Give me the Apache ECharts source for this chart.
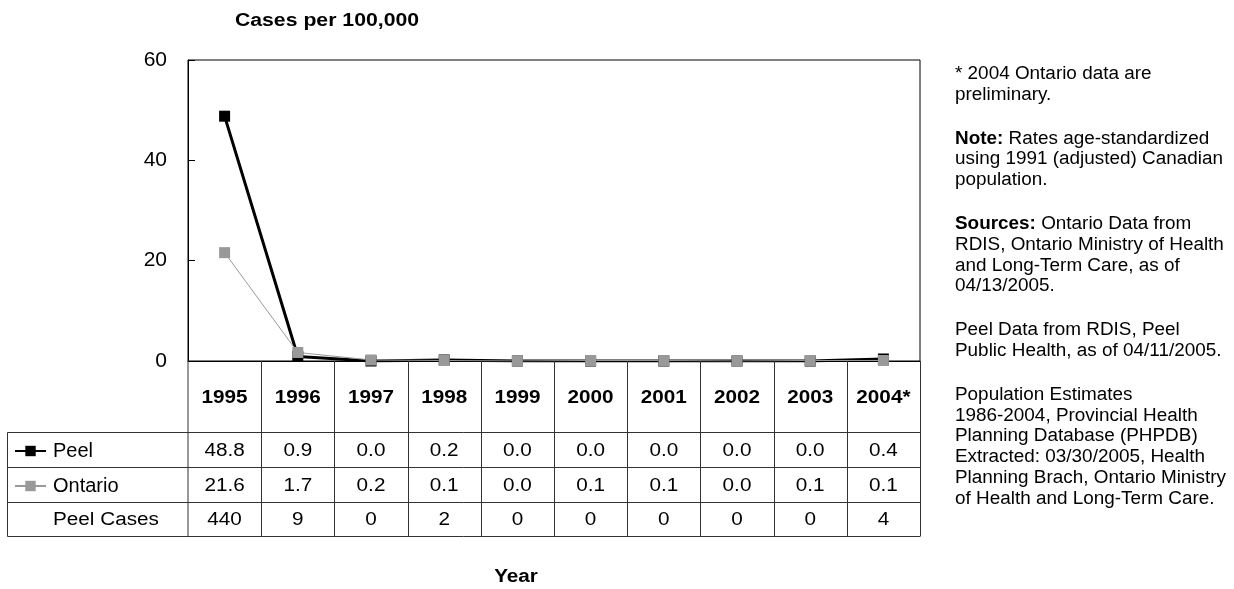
<!DOCTYPE html>
<html>
<head>
<meta charset="utf-8">
<script src="https://cdn.jsdelivr.net/npm/echarts@6/dist/echarts.min.js"></script>
<style>
  html, body { margin: 0; padding: 0; background: #fff; }
  #chart { width: 1234px; height: 589px; }
</style>
</head>
<body>
<div id="chart"></div>
<script>
// data
var years = ["1995", "1996", "1997", "1998", "1999", "2000", "2001", "2002", "2003", "2004*"];
var peel = [48.8, 0.9, 0.0, 0.2, 0.0, 0.0, 0.0, 0.0, 0.0, 0.4];
var ontario = [21.6, 1.7, 0.2, 0.1, 0.0, 0.1, 0.1, 0.0, 0.1, 0.1];
var peelCases = [440, 9, 0, 2, 0, 0, 0, 0, 0, 4];
var rowNames = ["Peel", "Ontario", "Peel Cases"];

// side notes, one array per paragraph ({b|..} = bold)
var notes = [
  ["* 2004 Ontario data are", "preliminary."],
  ["{b|Note:} Rates age-standardized", "using 1991 (adjusted) Canadian", "population."],
  ["{b|Sources:} Ontario Data from", "RDIS, Ontario Ministry of Health", "and Long-Term Care, as of", "04/13/2005."],
  ["Peel Data from RDIS, Peel", "Public Health, as of 04/11/2005."],
  ["Population Estimates", "1986-2004, Provincial Health", "Planning Database (PHPDB)",
   "Extracted: 03/30/2005, Health", "Planning Brach, Ontario Ministry", "of Health and Long-Term Care."]
];

var FONT = '"Liberation Sans", Arial, Helvetica, sans-serif';
var SX = 1.15;       // table text is a bit stretched sideways in the original
var LINE = "#333";

var chart = echarts.init(document.getElementById("chart"));

var option = {
  animation: false,
  grid: {
    left: 188, right: 314, top: 60, height: 301,
    show: true, borderColor: "#000", borderWidth: 1
  },
  legend: {
    orient: "vertical",
    left: 14, top: 440, padding: 0,
    itemWidth: 31, itemHeight: 13, itemGap: 13,
    data: ["Peel", "Ontario"],
    textStyle: { fontSize: 20, fontFamily: FONT, color: "#000", lineHeight: 22, padding: [0, 0, 0, 2] }
  },
  xAxis: {
    type: "category",
    data: years,
    boundaryGap: true,
    axisLine: { lineStyle: { color: "#000", width: 1 } },
    axisTick: { show: false },
    axisLabel: { show: false }
  },
  yAxis: {
    type: "value",
    min: 0, max: 60, interval: 20,
    axisLine: { show: true, lineStyle: { color: "#000" } },
    axisTick: { show: true, inside: true, length: 7, lineStyle: { color: "#000" } },
    splitLine: { show: false },
    axisLabel: { fontSize: 21, fontFamily: FONT, color: "#000", margin: 21 }
  },
  series: [
    {
      name: "Peel", type: "line", data: peel,
      symbol: "rect", symbolSize: 11,
      lineStyle: { color: "#000", width: 3 },
      itemStyle: { color: "#000" }
    },
    {
      name: "Ontario", type: "line", data: ontario,
      symbol: "rect", symbolSize: 11,
      lineStyle: { color: "#999", width: 1 },
      itemStyle: { color: "#999" }
    }
  ]
};
chart.setOption(option);

function txt(x, y, s, opts) {
  opts = opts || {};
  return {
    type: "text", x: x, y: y, scaleX: opts.sx || SX, z: 100,
    style: {
      text: s,
      fontSize: opts.size || 18,
      fontFamily: FONT,
      fontWeight: opts.bold ? "bold" : "normal",
      fill: "#000",
      align: opts.align || "center", textAlign: opts.align || "center",
      verticalAlign: "middle", textVerticalAlign: "middle",
      rich: opts.rich
    }
  };
}
function seg(x1, y1, x2, y2) {
  return { type: "line", z: 90, shape: { x1: x1, y1: y1, x2: x2, y2: y2 }, style: { stroke: LINE, lineWidth: 1 } };
}

// table laid out on the category scale
var xs = years.map(function (y, i) { return chart.convertToPixel({ xAxisIndex: 0 }, i); });
var step = xs[1] - xs[0];
var y0 = chart.convertToPixel({ yAxisIndex: 0 }, 0);
var rowEdges = [432.5, 467.5, 502.5, 536.5];
var tableLeft = 7.5;
var right = xs[xs.length - 1] + step / 2;

var g = [];
rowEdges.forEach(function (ry) { g.push(seg(tableLeft, ry, right, ry)); });
g.push(seg(tableLeft, rowEdges[0], tableLeft, rowEdges[3]));
for (var k = 0; k <= years.length; k++) {
  var bx = Math.round(xs[0] - step / 2 + k * step) + 0.5;
  if (k === 0) bx = xs[0] - step / 2;
  g.push(seg(bx, y0, bx, rowEdges[3]));
}

var headerY = (y0 + rowEdges[0]) / 2 + 1;
var rows = [
  peel.map(function (v) { return v.toFixed(1); }),
  ontario.map(function (v) { return v.toFixed(1); }),
  peelCases.map(String)
];
years.forEach(function (yr, i) {
  g.push(txt(xs[i], headerY, yr, { bold: true }));
  rows.forEach(function (r, j) {
    g.push(txt(xs[i], (rowEdges[j] + rowEdges[j + 1]) / 2 + 1, r[i]));
  });
});
g.push(txt(53, (rowEdges[2] + rowEdges[3]) / 2 + 1, rowNames[2], { align: "left" }));

// titles
g.push(txt(327, 21, "Cases per 100,000", { bold: true, sx: 1.18 }));
g.push(txt(516, 577, "Year", { bold: true }));

// side notes
var lineNo = 0;
notes.forEach(function (para, p) {
  para.forEach(function (line) {
    g.push(txt(955, 74 + lineNo * 20.8 + p * 23, line, {
      size: 18, align: "left", sx: 1.05,
      rich: { b: { fontSize: 18, fontFamily: FONT, fontWeight: "bold", fill: "#000" } }
    }));
    lineNo++;
  });
});

chart.setOption({ graphic: g });
</script>
</body>
</html>
